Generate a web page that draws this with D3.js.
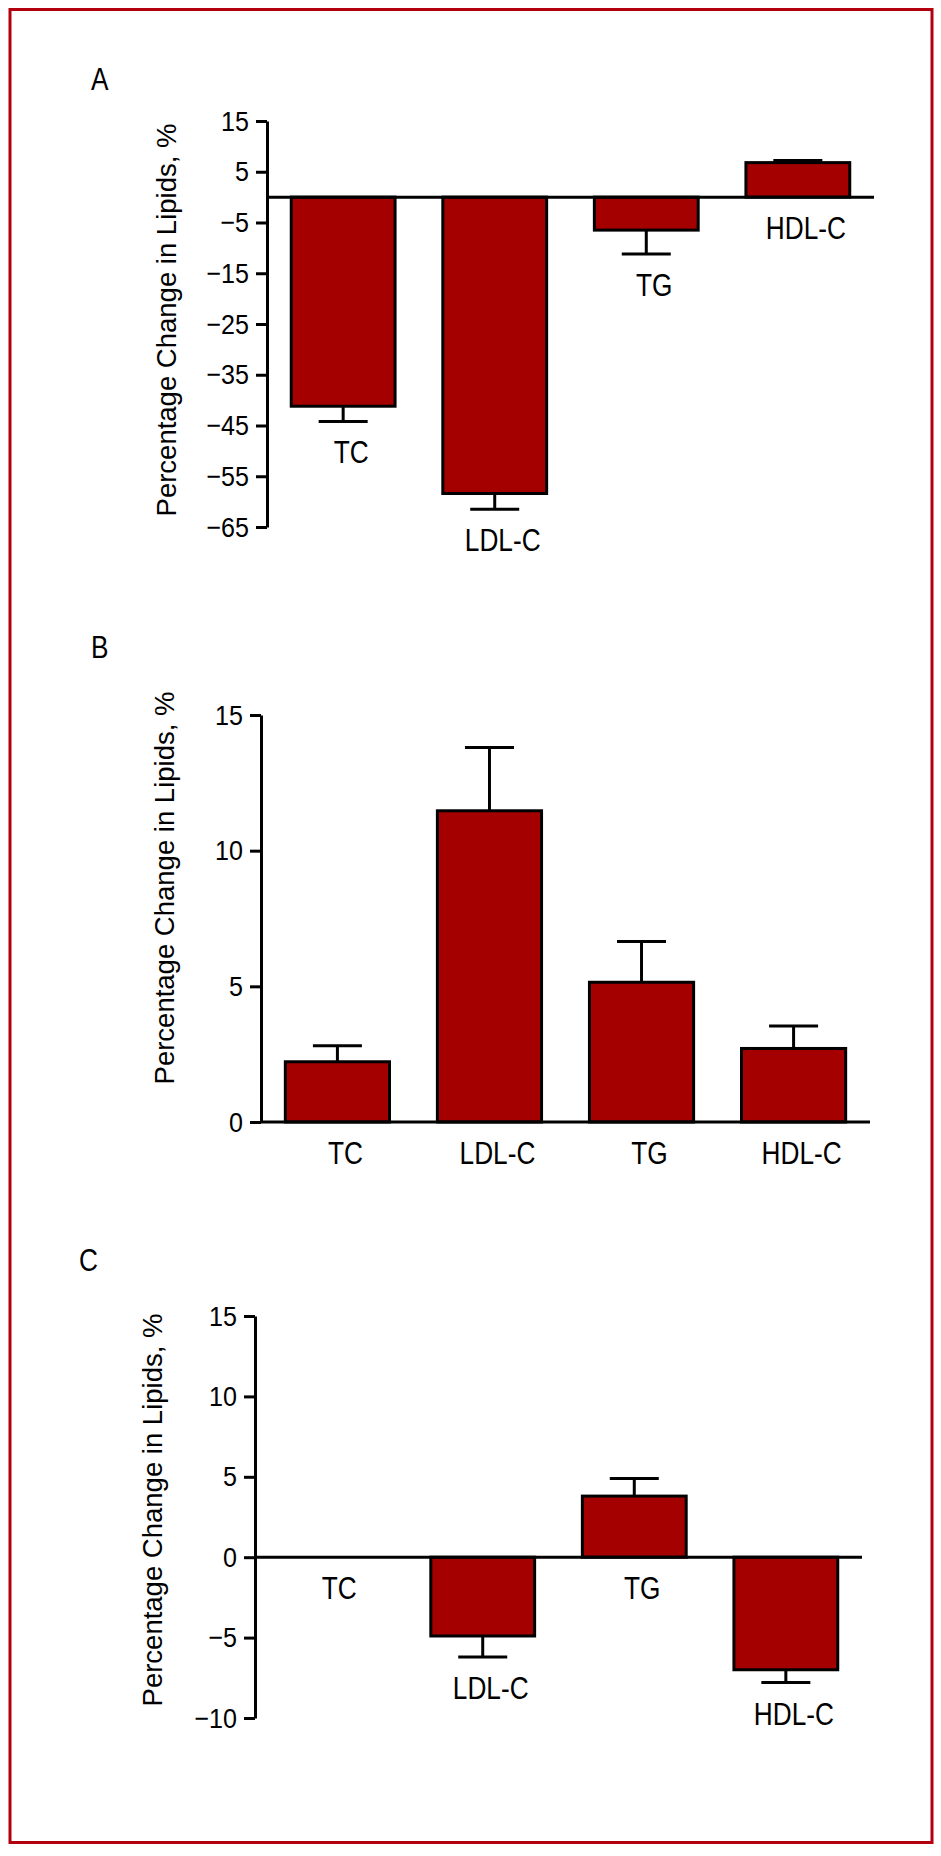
<!DOCTYPE html>
<html lang="en">
<head>
    <meta charset="UTF-8">
    <title>Percentage Change in Lipids</title>
    <script src="https://d3js.org/d3.v7.min.js"></script>
    <style>
        body { margin: 0; background: #fff; }
        text { font-family: "Liberation Sans", Arial, sans-serif; }
    </style>
</head>
<body>
<script>
    // data
    var categories = ["TC", "LDL-C", "TG", "HDL-C"];
    var panelNames = ["A", "B", "C"];

    var valuesA = [-41.2, -58.4, -6.5, 6.8];
    var errorsA = [3.0, 3.1, 4.7, 0.4];
    var ticksA = [15, 5, -5, -15, -25, -35, -45, -55, -65];

    var valuesB = [2.22, 11.47, 5.15, 2.71];
    var errorsB = [0.59, 2.33, 1.5, 0.83];
    var ticksB = [0, 5, 10, 15];

    var valuesC = [0, -4.9, 3.8, -7.0];
    var errorsC = [0, 1.3, 1.1, 0.8];
    var ticksC = [-10, -5, 0, 5, 10, 15];

    var w = 941, h = 1856;
    var barColor = "#a50000";
    var squeeze = 0.82; // no condensed face installed, so squeeze Liberation Sans sideways

    var svg = d3.select("body").append("svg")
        .attr("width", w)
        .attr("height", h);

    // red frame round the whole figure
    svg.append("rect")
        .attr("x", 10).attr("y", 9.5)
        .attr("width", 922).attr("height", 1833)
        .attr("fill", "none")
        .attr("stroke", "#b3000f")
        .attr("stroke-width", 3);

    // condensed-looking text at (x, y)
    function narrowText(parent, x, y, size, str, anchor) {
        return parent.append("text")
            .attr("transform", "translate(" + x + "," + y + ") scale(" + squeeze + ",1)")
            .attr("text-anchor", anchor || "start")
            .attr("font-size", size)
            .text(str);
    }

    // layout of each panel
    var panels = [
        { name: panelNames[0], values: valuesA, errors: errorsA, ticks: ticksA, domain: [-65, 15],
          left: 267, right: 874, top: 121, bottom: 527, letterX: 91, letterY: 90, labelX: 176, labelY: 320 },
        { name: panelNames[1], values: valuesB, errors: errorsB, ticks: ticksB, domain: [0, 15],
          left: 261, right: 870, top: 715, bottom: 1122, letterX: 91, letterY: 658, labelX: 174, labelY: 888 },
        { name: panelNames[2], values: valuesC, errors: errorsC, ticks: ticksC, domain: [-10, 15],
          left: 255, right: 862, top: 1316, bottom: 1718, letterX: 79, letterY: 1271, labelX: 162, labelY: 1510 }
    ];

    panels.forEach(function(p) {
        var g = svg.append("g");

        var x = d3.scaleBand()
            .domain(categories)
            .range([p.left, p.right])
            .paddingInner(0.315)
            .paddingOuter(0.16);

        var y = d3.scaleLinear()
            .domain(p.domain)
            .range([p.bottom, p.top]);

        var rows = categories.map(function(c, i) {
            return { cat: c, v: p.values[i], e: p.errors[i] };
        });

        function mid(d) { return x(d.cat) + x.bandwidth() / 2; }
        function tip(d) { return y(d.v + (d.v < 0 ? -d.e : d.e)); }

        // panel letter
        narrowText(g, p.letterX, p.letterY, 32, p.name);

        // y axis title
        g.append("text")
            .attr("transform", "translate(" + p.labelX + "," + p.labelY + ") rotate(-90)")
            .attr("text-anchor", "middle")
            .attr("font-size", 27.5)
            .text("Percentage Change in Lipids, %");

        // error bars (drawn first so the bar outline sits on top)
        var err = g.selectAll(".err")
            .data(rows.filter(function(d) { return d.e > 0; }))
            .enter().append("g");

        err.append("line")
            .attr("x1", mid).attr("x2", mid)
            .attr("y1", function(d) { return y(d.v); })
            .attr("y2", tip)
            .attr("stroke", "black")
            .attr("stroke-width", 3);

        err.append("line")
            .attr("x1", function(d) { return mid(d) - 24.5; })
            .attr("x2", function(d) { return mid(d) + 24.5; })
            .attr("y1", tip).attr("y2", tip)
            .attr("stroke", "black")
            .attr("stroke-width", 3);

        // bars
        g.selectAll(".bar")
            .data(rows.filter(function(d) { return d.v !== 0; }))
            .enter().append("rect")
            .attr("x", function(d) { return x(d.cat); })
            .attr("y", function(d) { return y(Math.max(0, d.v)); })
            .attr("width", x.bandwidth())
            .attr("height", function(d) { return Math.abs(y(d.v) - y(0)); })
            .attr("fill", barColor)
            .attr("stroke", "black")
            .attr("stroke-width", 3);

        // y axis
        var axis = d3.axisLeft(y)
            .tickValues(p.ticks)
            .tickSize(11)
            .tickSizeOuter(0)
            .tickPadding(7);

        var ag = g.append("g")
            .attr("transform", "translate(" + p.left + ",0)")
            .call(axis);
        ag.select(".domain").attr("stroke-width", 3);
        ag.selectAll(".tick line").attr("stroke-width", 3);
        ag.selectAll(".tick text")
            .attr("x", 0)
            .attr("transform", "translate(-18,0) scale(0.88,1)")
            .attr("font-size", 28.5)
            .attr("font-family", "'Liberation Sans', Arial, sans-serif")
            .attr("fill", "black");

        // zero line
        g.append("line")
            .attr("x1", p.left)
            .attr("x2", p.right)
            .attr("y1", y(0))
            .attr("y2", y(0))
            .attr("stroke", "black")
            .attr("stroke-width", 3);

        // category labels under bars / error bars
        rows.forEach(function(d) {
            var ly = y(d.v < 0 ? d.v - d.e : 0) + 42;
            narrowText(g, mid(d) + 8, ly, 32, d.cat, "middle");
        });
    });
</script>
</body>
</html>
